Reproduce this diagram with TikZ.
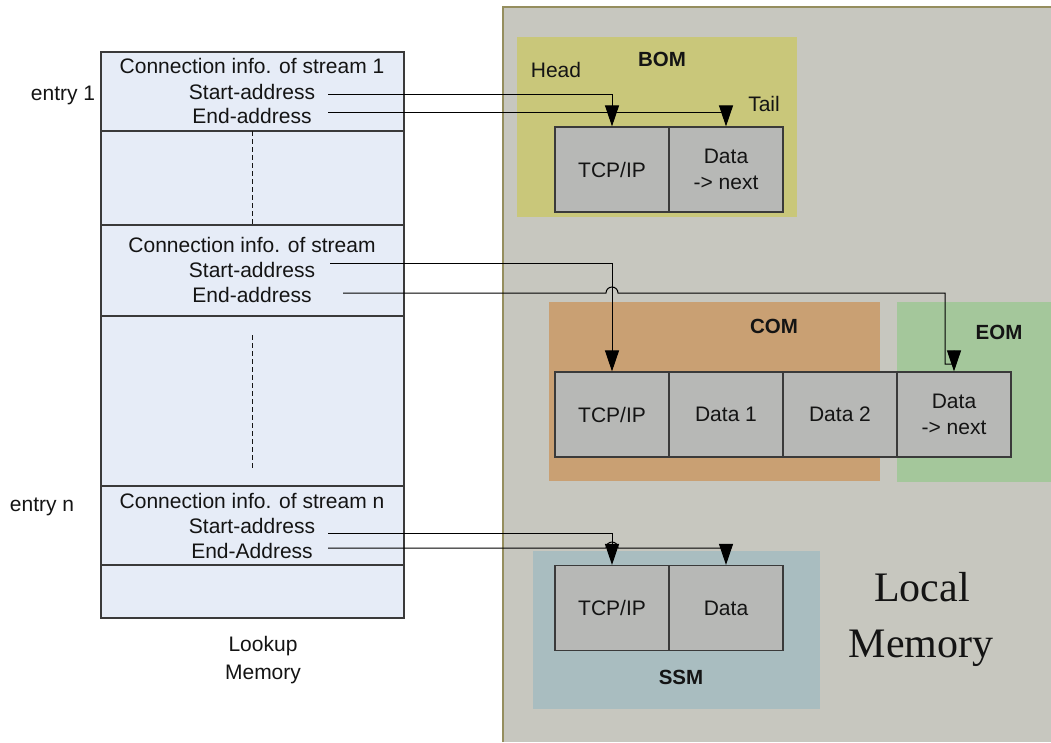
\documentclass[tikz,border=0pt]{standalone}
\usepackage{fontspec}
\setmainfont{Liberation Sans}
\newfontfamily\memserif{Liberation Serif}
\usetikzlibrary{arrows.meta}

\definecolor{lookupfill}{HTML}{E6ECF7}
\definecolor{localfill}{HTML}{C7C7BF}
\definecolor{localedge}{HTML}{958E5E}
\definecolor{bomfill}{HTML}{C9C77A}
\definecolor{comfill}{HTML}{C9A073}
\definecolor{eomfill}{HTML}{A4C79B}
\definecolor{ssmfill}{HTML}{A9BDC0}
\definecolor{cellfill}{HTML}{B7B8B6}
\definecolor{edgegray}{HTML}{3A3A3A}
\definecolor{inkdark}{HTML}{141414}

\begin{document}
\begin{tikzpicture}[x=1pt,y=-1pt,
  font=\fontsize{21}{26}\selectfont,
  txt/.style={inner sep=0pt, anchor=base, text=inkdark},
  tag/.style={inner sep=0pt, anchor=base, text=inkdark,
    font=\fontsize{20.5}{24}\selectfont\bfseries},
  cell/.style={draw=edgegray, line width=1.2pt, fill=cellfill,
    minimum width=114pt, minimum height=85pt, inner sep=0pt,
    align=center, text=inkdark},
  ptr/.style={draw=black, line width=1pt,
    -{Triangle[length=21pt,width=14pt]}},
  divider/.style={draw=edgegray, line width=1.2pt},
  gap/.style={draw=inkdark, line width=0.8pt, dash pattern=on 5pt off 3pt}
]
\useasboundingbox (0,0) rectangle (1051,742);
\fill[white] (0,0) rectangle (1051,742);

% ---- local memory area ----
\fill[localfill] (503,7) rectangle (1051,742);
\draw[localedge, line width=2pt] (503,742) -- (503,7) -- (1051,7);

% memory regions
\fill[bomfill] (517,37) rectangle (797,217);
\fill[comfill] (549,302) rectangle (880,481);
\fill[eomfill] (897,302) rectangle (1051,482);
\fill[ssmfill] (533,551) rectangle (820,709);

\node[tag] (bom) at (662,66) {BOM};
\node[tag] (com) at (774,333) {COM};
\node[tag] (eom) at (999,339) {EOM};
\node[tag] (ssm) at (681,684) {SSM};
\node[txt] (head) at (556,77) {Head};
\node[txt] (tail) at (764,111) {Tail};

% packet cells
\node[cell] (bomTcp)  at (612,169.5) {TCP/IP};
\node[cell] (bomData) at (726,169.5) {Data\\-> next};

\node[cell] (comTcp)  at (612,414.5) {TCP/IP};
\node[cell] (comD1)   at (726,414.5) {Data 1};
\node[cell] (comD2)   at (840,414.5) {Data 2};
\node[cell] (eomData) at (954,414.5) {Data\\-> next};

\node[cell] (ssmTcp)  at (612,608) {TCP/IP};
\node[cell] (ssmData) at (726,608) {Data};

\node[inner sep=0pt, anchor=base, text=inkdark,
  font=\fontsize{42}{56}\selectfont\memserif] (lm1) at (922,601) {Local};
\node[inner sep=0pt, anchor=base, text=inkdark,
  font=\fontsize{42}{56}\selectfont\memserif] (lm2) at (921,657) {Memory};

% ---- lookup memory table ----
\draw[edgegray, line width=1.2pt, fill=lookupfill] (101,52) rectangle (404,618);
\foreach \yy in {131,225,316,486,565}
  \draw[divider] (101,\yy) -- (404,\yy);
\draw[gap] (252,131) -- (252,225);
\draw[gap] (252,335) -- (252,470);

\node[txt] (ci1) at (252,73.5) {Connection info. of stream 1};
\node[txt] (sa1) at (252,99.5) {Start-address};
\node[txt] (ea1) at (252,123.5) {End-address};

\node[txt] (ci2) at (252,252) {Connection info. of stream};
\node[txt] (sa2) at (252,277.5) {Start-address};
\node[txt] (ea2) at (252,302) {End-address};

\node[txt] (ci3) at (252,508.5) {Connection info. of stream n};
\node[txt] (sa3) at (252,533.5) {Start-address};
\node[txt] (ea3) at (252,558.5) {End-Address};

\node[txt] (entry1) at (63,100) {entry 1};
\node[txt] (entryn) at (42,511) {entry n};
\node[txt] (lk1) at (263,651) {Lookup};
\node[txt] (lk2) at (263,679.5) {Memory};

% ---- pointers ----
\coordinate (s1) at (328,94);
\coordinate (e1) at (328,112);
\coordinate (s2) at (330,263);
\coordinate (e2) at (343,293);
\coordinate (s3) at (328,533);
\coordinate (e3) at (328,548);

\draw[ptr] (s1) -| (bomTcp.north);
\draw[ptr] (e1) -| (bomData.north);

\draw[ptr] (s2) -| (comTcp.north);
\draw[ptr] (e2) -- (606,293) arc (180:360:6) -- (945,293) -- (945,364)
  -- (954,364) -- (eomData.north);

\draw[ptr] (s3) -| (ssmTcp.north);
\draw[ptr] (e3) -- (606,548) arc (180:360:6) -| (ssmData.north);
\end{tikzpicture}
\end{document}
